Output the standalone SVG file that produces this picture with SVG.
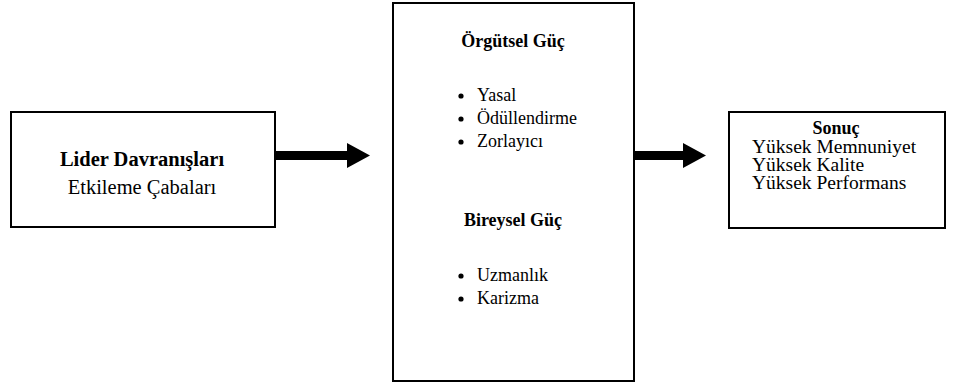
<svg xmlns="http://www.w3.org/2000/svg" width="961" height="385" viewBox="0 0 961 385">
<style>
.box{fill:#fff;stroke:#000;stroke-width:2}
text{font-family:"Liberation Serif","Times New Roman",serif;font-size:18px;fill:#000}
.b{font-weight:bold}
.c{text-anchor:middle}
.l{font-size:20.5px}
.r{font-size:19.5px}
.arrow{fill:#000}
</style>
<rect width="961" height="385" fill="#fff"/>
<g id="lider">
<rect class="box" x="11" y="112" width="264" height="115"/>
<text class="b c l" x="142" y="166">Lider Davranışları</text>
<text class="c l" x="142" y="194">Etkileme Çabaları</text>
</g>
<g id="guc">
<rect class="box" x="393" y="3" width="241" height="378"/>
<text class="b c" x="513" y="47">Örgütsel Güç</text>
<circle cx="461" cy="96" r="2.6"/>
<circle cx="461" cy="119" r="2.6"/>
<circle cx="461" cy="142" r="2.6"/>
<text x="477" y="101">Yasal</text>
<text x="477" y="124">Ödüllendirme</text>
<text x="477" y="147">Zorlayıcı</text>
<text class="b c" x="513" y="226">Bireysel Güç</text>
<circle cx="461" cy="276" r="2.6"/>
<circle cx="461" cy="299" r="2.6"/>
<text x="477" y="281">Uzmanlık</text>
<text x="477" y="304">Karizma</text>
</g>
<g id="sonuc">
<rect class="box" x="729" y="112" width="216" height="116"/>
<text class="b c" x="836" y="134">Sonuç</text>
<text class="r" x="752" y="153">Yüksek Memnuniyet</text>
<text class="r" x="752" y="171">Yüksek Kalite</text>
<text class="r" x="752" y="189">Yüksek Performans</text>
</g>
<g id="connectors">
<polygon class="arrow" points="275,151 347,151 347,143 370,155.5 347,168 347,160 275,160"/>
<polygon class="arrow" points="634,151 683,151 683,143 706,155.5 683,168 683,160 634,160"/>
</g>
</svg>
